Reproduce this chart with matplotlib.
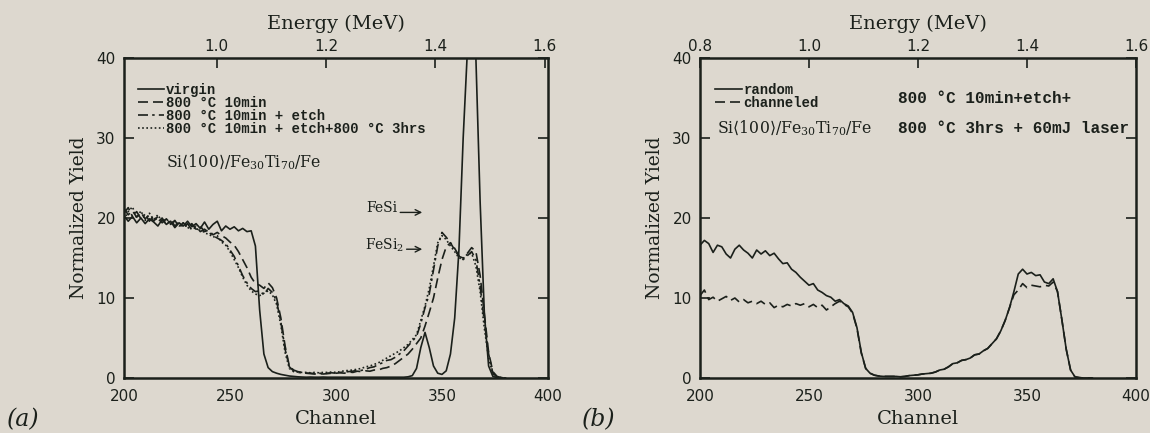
import matplotlib
matplotlib.use('Agg')
import matplotlib.pyplot as plt

# channels sampled every 2 from 200 to 380
channel = list(range(200, 382, 2))

# panel (a)
virgin = [20.3, 19.6, 20.2, 19.4, 20.0, 19.3, 19.9, 19.5, 19.0, 19.8,
          19.2, 19.6, 18.8, 19.4, 19.0, 19.6, 18.9, 19.3, 18.7, 19.5,
          18.6, 19.2, 19.6, 18.4, 19.0, 18.6, 18.9, 18.4, 18.7, 18.3,
          18.4, 16.5, 8.5, 3.0, 1.3, 0.8, 0.6, 0.45, 0.35, 0.25,
          0.2, 0.15, 0.12, 0.1, 0.12, 0.1, 0.1, 0.12, 0.1, 0.1,
          0.1, 0.1, 0.1, 0.1, 0.1, 0.1, 0.1, 0.1, 0.1, 0.1,
          0.1, 0.1, 0.1, 0.1, 0.1, 0.1, 0.1, 0.15, 0.3, 1.2,
          3.8, 5.7, 3.8, 1.5, 0.6, 0.45, 0.9, 3.0, 7.5, 16.0,
          30.0, 41.0, 46.0, 40.0, 22.0, 8.0, 1.5, 0.2, 0.05, 0.0,
          0.0]
anneal = [21.2, 20.4, 20.9, 20.1, 20.7, 19.9, 20.4, 19.6, 20.2, 19.4,
          19.9, 19.2, 19.7, 18.9, 19.4, 18.8, 19.3, 18.6, 19.0, 18.3,
          18.5, 17.9, 18.2, 17.8, 17.5, 17.0, 16.6, 15.8, 14.8, 13.8,
          12.6, 11.8, 11.6, 11.2, 11.9, 11.3, 10.0, 7.5, 4.0, 1.5,
          1.0, 0.8, 0.7, 0.6, 0.55, 0.5, 0.55, 0.5, 0.55, 0.6,
          0.6, 0.65, 0.6, 0.75, 0.7, 0.85, 0.8, 0.9, 0.85, 1.0,
          1.0, 1.2, 1.3, 1.5, 1.8, 2.2, 2.6, 3.0, 3.6, 4.3,
          5.0, 6.5, 8.2, 10.0, 12.5, 14.8, 16.4, 16.9, 16.0, 15.2,
          15.0, 15.6, 16.3, 15.8, 12.8, 8.0, 3.2, 0.8, 0.2, 0.05,
          0.0]
etch = [20.6, 21.3, 20.2, 20.8, 19.9, 20.5, 19.6, 20.3, 19.5, 20.0,
        19.2, 19.8, 19.0, 19.5, 18.8, 19.3, 18.5, 19.0, 18.3, 18.6,
        18.2, 17.8, 17.5, 17.2, 16.8, 16.0, 15.2, 14.0, 12.8, 11.9,
        11.2, 10.8, 10.9, 10.4, 11.2, 10.7, 9.6, 7.0, 3.6, 1.4,
        0.9, 0.7, 0.65, 0.6, 0.6, 0.55, 0.6, 0.55, 0.6, 0.65,
        0.6, 0.7, 0.75, 0.8, 0.85, 1.0, 0.95, 1.1, 1.3, 1.4,
        1.7, 1.9, 2.2, 2.3, 2.6, 3.0, 3.4, 4.0, 4.6, 5.2,
        6.8, 8.8, 10.5, 13.5, 16.5, 18.2, 17.6, 16.9, 16.2, 15.3,
        14.8, 15.3, 15.8, 14.8, 11.5, 7.0, 3.0, 0.6, 0.1, 0.05,
        0.0]
etch_3hrs = [19.8, 20.8, 21.4, 20.0, 20.9, 19.7, 20.6, 19.8, 20.4, 19.5,
             19.9, 19.3, 19.6, 19.0, 19.4, 18.7, 19.1, 18.5, 18.8, 18.1,
             18.0, 17.6, 17.8, 17.0, 16.6, 15.8, 14.8, 13.8, 12.6, 11.6,
             10.9, 10.5, 10.3, 10.6, 10.9, 10.4, 9.2, 6.6, 3.2, 1.2,
             0.8, 0.75, 0.7, 0.7, 0.65, 0.7, 0.65, 0.7, 0.7, 0.75,
             0.7, 0.8, 0.9, 0.95, 1.0, 1.1, 1.2, 1.4, 1.5, 1.7,
             1.9, 2.2, 2.5, 2.8, 3.1, 3.4, 3.8, 4.2, 4.8, 5.4,
             7.2, 9.0, 11.2, 14.0, 16.9, 17.8, 17.3, 16.5, 15.8, 15.0,
             14.9, 15.5, 15.6, 14.0, 10.8, 6.2, 2.5, 0.5, 0.1, 0.05,
             0.0]

# panel (b)
random_dir = [16.6, 17.2, 16.8, 15.7, 16.6, 16.4, 15.5, 15.0, 16.1, 16.6,
              16.0, 15.6, 15.0, 16.0, 15.5, 15.9, 15.3, 15.6, 14.9, 14.3,
              14.4, 13.6, 13.2, 12.6, 12.1, 11.6, 11.8, 11.0, 10.7, 10.3,
              10.1, 9.6, 9.8, 9.3, 9.0, 8.2, 6.3, 3.2, 1.2, 0.6,
              0.35, 0.25, 0.2, 0.2, 0.2, 0.2, 0.15, 0.2, 0.3, 0.35,
              0.4, 0.5, 0.55, 0.6, 0.75, 1.0, 1.1, 1.4, 1.8, 1.9,
              2.2, 2.3, 2.5, 2.9, 3.0, 3.4, 3.7, 4.3, 4.9, 5.9,
              7.2, 8.8, 10.8, 13.0, 13.6, 13.0, 13.2, 12.8, 12.9, 12.0,
              11.8, 12.4, 10.8, 7.3, 3.6, 1.0, 0.15, 0.05, 0.0, 0.0,
              0.0]
channeled = [10.3, 11.0, 9.8, 10.1, 9.6, 9.9, 10.2, 9.7, 10.0, 9.5,
             9.8, 9.4, 9.6, 9.3, 9.6, 9.2, 9.4, 8.8, 9.1, 8.9,
             9.2, 9.0, 9.3, 9.1, 9.3, 8.9, 9.2, 8.8, 9.1, 8.5,
             8.9, 9.3, 9.6, 9.2, 8.9, 8.1, 6.2, 3.1, 1.2, 0.6,
             0.35, 0.25, 0.2, 0.2, 0.2, 0.2, 0.15, 0.2, 0.3, 0.35,
             0.4, 0.5, 0.55, 0.6, 0.75, 1.0, 1.1, 1.4, 1.8, 1.9,
             2.2, 2.3, 2.5, 2.9, 3.0, 3.4, 3.7, 4.3, 4.9, 5.9,
             7.2, 8.8, 10.4, 11.0, 11.8, 11.3, 11.6, 11.5, 11.4, 11.6,
             11.5, 12.0, 10.8, 7.3, 3.6, 1.0, 0.15, 0.05, 0.0, 0.0,
             0.0]

yticks = [0, 10, 20, 30, 40]
energy_ticks = [0.8, 1.0, 1.2, 1.4, 1.6]
energy_lim_a = (0.8306, 1.606)
energy_lim_b = (0.8, 1.6)

bg = '#ddd8cf'
ink = '#1b201b'

plt.rcParams['font.family'] = 'DejaVu Serif'
plt.rcParams['mathtext.fontset'] = 'dejavuserif'
plt.rcParams['mathtext.default'] = 'regular'

mono = dict(family='Liberation Mono', weight='bold')


def setup(ax, elim):
    ax.set_facecolor(bg)
    ax.set_xticks([200, 250, 300, 350, 400])
    ax.set_yticks(yticks)
    ax.set_xlim(200, 400)
    ax.set_ylim(0, 40)
    for s in ax.spines.values():
        s.set_linewidth(1.8)
        s.set_color(ink)
    ax.tick_params(axis='x', which='both', length=0, pad=8, labelsize=11,
                   labelcolor=ink)
    ax.tick_params(axis='y', direction='in', length=7, width=1.2, right=True,
                   pad=6, labelsize=11, labelcolor=ink, color=ink)
    for lab in ax.get_xticklabels() + ax.get_yticklabels():
        lab.set_family('DejaVu Sans')
    ax.set_xlabel('Channel', fontsize=14, color=ink, labelpad=4)
    ax.set_ylabel('Normalized Yield', fontsize=13.5, color=ink, labelpad=6)
    top = ax.twiny()
    top.set_xticks(energy_ticks)
    top.set_xticklabels(['%.1f' % e for e in energy_ticks], family='DejaVu Sans')
    top.set_xlim(*elim)
    top.tick_params(direction='in', length=7, width=1.2, pad=3, labelsize=11,
                    labelcolor=ink, color=ink)
    top.set_xlabel('Energy (MeV)', fontsize=14, color=ink, labelpad=7)
    for s in top.spines.values():
        s.set_visible(False)
    return top


def legend(ax, x):
    leg = ax.legend(loc='upper left', bbox_to_anchor=(x, 0.922), frameon=False,
                    prop=dict(size=10, **mono), handlelength=1.9,
                    handletextpad=0.12, labelspacing=-0.08, borderpad=0,
                    borderaxespad=0)
    for t in leg.get_texts():
        t.set_color(ink)


fig = plt.figure(figsize=(11.5, 4.33), dpi=100, facecolor=bg)
ax1 = fig.add_axes([0.1078, 0.127, 0.3687, 0.739])
ax2 = fig.add_axes([0.6087, 0.127, 0.3791, 0.739])

setup(ax1, energy_lim_a)
ax1.plot(channel, virgin, color=ink, lw=1.2, ls='-', label='virgin')
ax1.plot(channel, anneal, color=ink, lw=1.2, ls=(0, (6, 3)), label='800 °C 10min')
ax1.plot(channel, etch, color=ink, lw=1.2, ls=(0, (6, 2.5, 1.5, 2.5)),
         label='800 °C 10min + etch')
ax1.plot(channel, etch_3hrs, color=ink, lw=1.2, ls=(0, (1, 1.5)),
         label='800 °C 10min + etch+800 °C 3hrs')
legend(ax1, 0.033)
ax1.text(0.0985, 0.675, r'Si$\langle$100$\rangle$/Fe$_{30}$Ti$_{70}$/Fe',
         transform=ax1.transAxes, fontsize=11.3, color=ink, va='center')
ax1.annotate('', xy=(342, 20.7), xytext=(329, 20.7),
             arrowprops=dict(arrowstyle='->', color=ink, lw=1))
ax1.text(329, 20.7, 'FeSi', ha='right', va='baseline', fontsize=10, color=ink)
ax1.annotate('', xy=(342, 16.1), xytext=(332, 16.1),
             arrowprops=dict(arrowstyle='->', color=ink, lw=1))
ax1.text(332, 16.1, 'FeSi$_2$', ha='right', va='baseline', fontsize=10, color=ink)

setup(ax2, energy_lim_b)
ax2.plot(channel, random_dir, color=ink, lw=1.2, ls='-', label='random')
ax2.plot(channel, channeled, color=ink, lw=1.2, ls=(0, (6, 3)), label='channeled')
legend(ax2, 0.035)
ax2.text(0.038, 0.781, r'Si$\langle$100$\rangle$/Fe$_{30}$Ti$_{70}$/Fe',
         transform=ax2.transAxes, fontsize=11.3, color=ink, va='center')
ax2.text(0.455, 0.875, '800 °C 10min+etch+', transform=ax2.transAxes,
         fontsize=11.5, color=ink, va='center', **mono)
ax2.text(0.455, 0.781, '800 °C 3hrs + 60mJ laser', transform=ax2.transAxes,
         fontsize=11.5, color=ink, va='center', **mono)

fig.text(0.006, 0.03, '(a)', fontsize=17, style='italic', color=ink, va='center')
fig.text(0.506, 0.03, '(b)', fontsize=17, style='italic', color=ink, va='center')

fig.savefig('out.png', dpi=100, facecolor=bg)
